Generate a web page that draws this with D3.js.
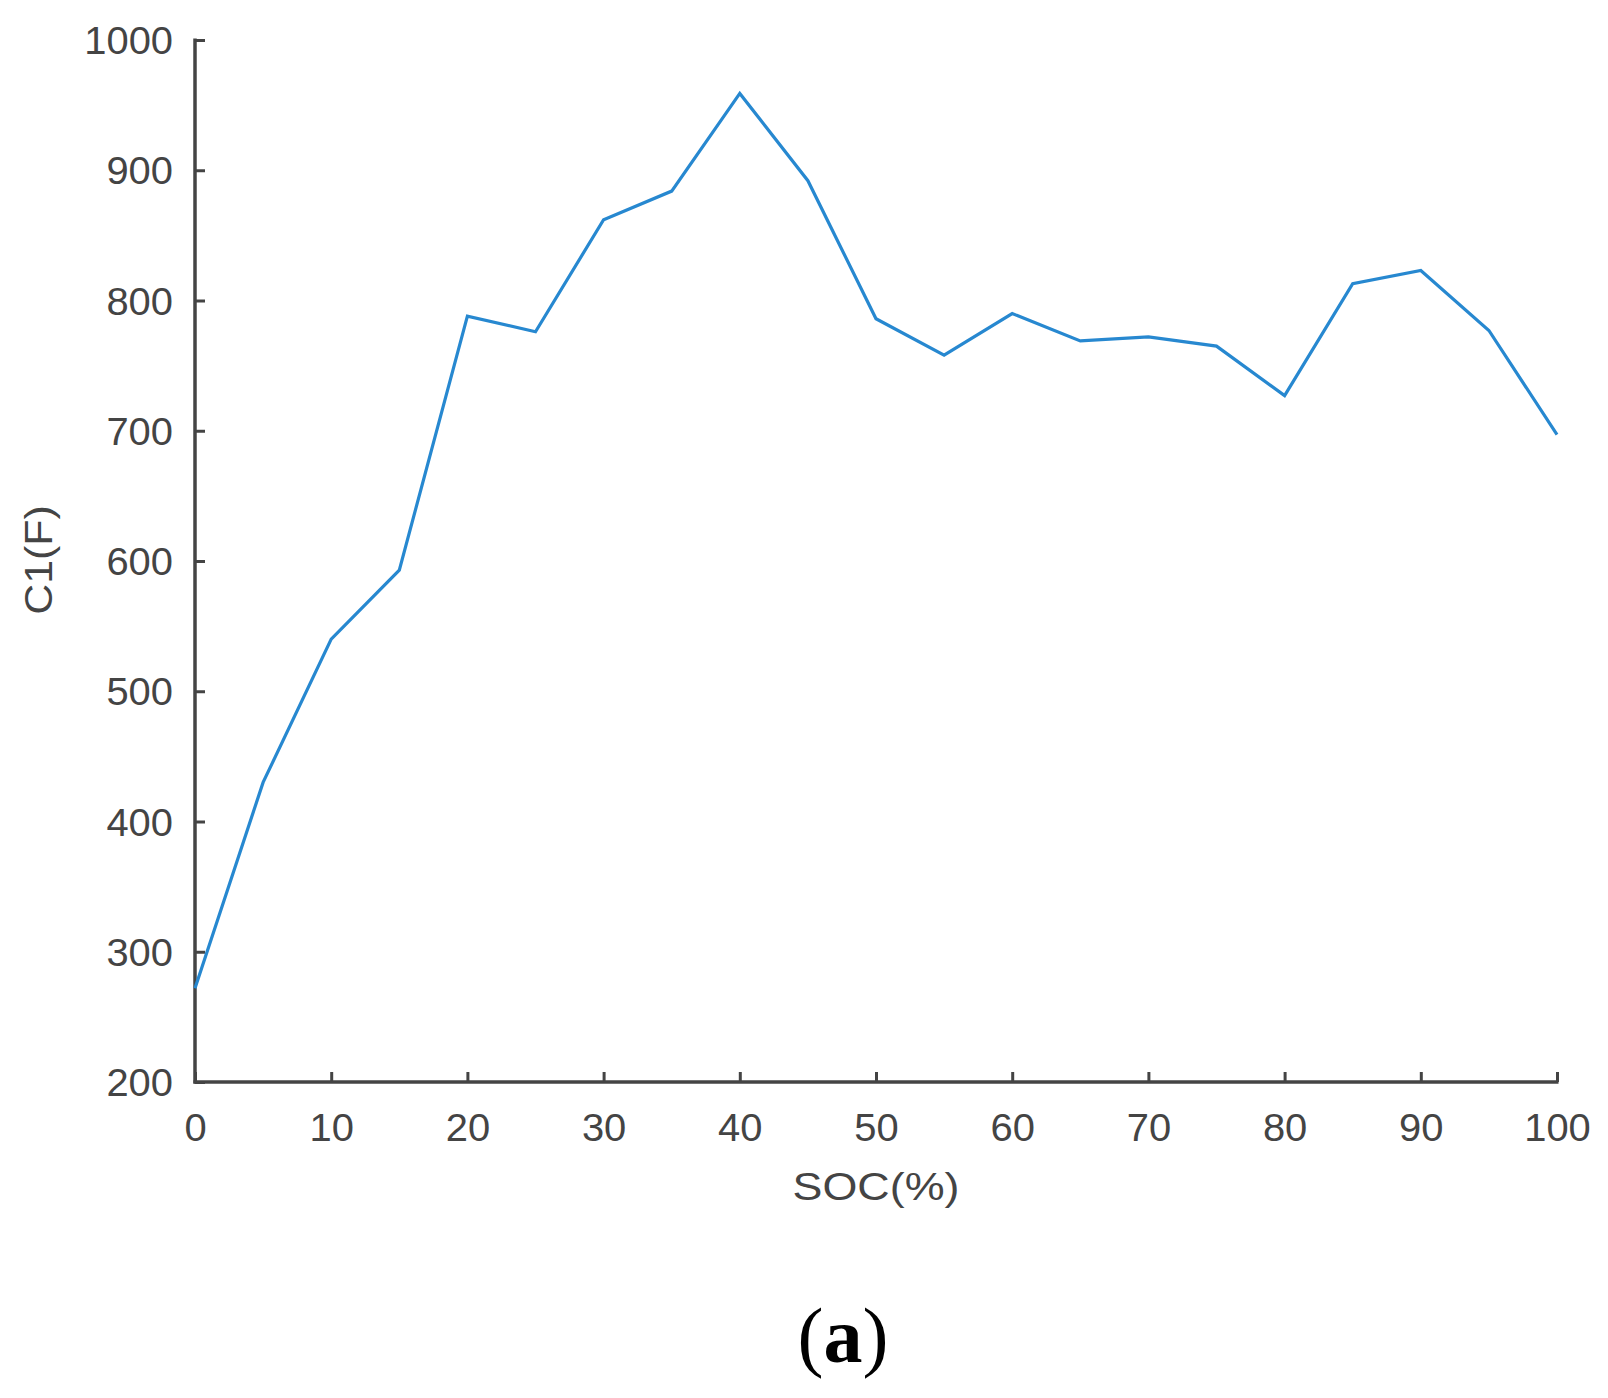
<!DOCTYPE html>
<html>
<head>
<meta charset="utf-8">
<script src="https://cdn.jsdelivr.net/npm/d3@7"></script>
<style>
  html, body { margin: 0; padding: 0; background: #fff; }
  svg { display: block; }
</style>
</head>
<body>
<script>
const soc = [0, 5, 10, 15, 20, 25, 30, 35, 40, 45, 50, 55, 60, 65, 70, 75, 80, 85, 90, 95, 100];
const c1 = [272, 430, 540, 593, 788, 776, 862, 884, 959, 892, 786, 758, 790, 769, 772, 765, 727, 813, 823, 777, 697];
const xTicks = [0, 10, 20, 30, 40, 50, 60, 70, 80, 90, 100];
const yTicks = [200, 300, 400, 500, 600, 700, 800, 900, 1000];
const xLabel = "SOC(%)";
const yLabel = "C1(F)";
const caption = "a";

(function () {
const W = 1608, H = 1398;
const mLeft = 195, mRight = 1557, mTop = 40, mBottom = 1082;
const axisColor = "#444444";
const textColor = "#444444";

const svg = d3.select("body").append("svg").attr("width", W).attr("height", H);

const x = d3.scaleLinear().domain([0, 100]).range([mLeft, mRight]);
const y = d3.scaleLinear().domain([200, 1000]).range([mBottom, mTop]);

const font = "'Liberation Sans', Arial, sans-serif";

// X axis
const gx = svg.append("g").attr("transform", `translate(0,${mBottom})`)
  .call(d3.axisTop(x).tickValues(xTicks).tickSize(10).tickFormat(""));
gx.select(".domain").remove();
gx.selectAll(".tick line").attr("stroke", axisColor).attr("stroke-width", 3);
gx.append("line").attr("x1", mLeft - 1.5).attr("x2", mRight + 1.5).attr("y1", 0).attr("y2", 0)
  .attr("stroke", axisColor).attr("stroke-width", 3.5);
gx.selectAll(".tick").append("text")
  .attr("transform", "translate(0,59) scale(1.05,1)")
  .attr("text-anchor", "middle")
  .attr("fill", textColor).style("font-family", font).style("font-size", "38px")
  .text(d => d);

// Y axis
const gy = svg.append("g").attr("transform", `translate(${mLeft},0)`)
  .call(d3.axisRight(y).tickValues(yTicks).tickSize(10).tickFormat(""));
gy.select(".domain").remove();
gy.selectAll(".tick line").attr("stroke", axisColor).attr("stroke-width", 3);
gy.append("line").attr("x1", 0).attr("x2", 0).attr("y1", mTop - 1.5).attr("y2", mBottom + 1.5)
  .attr("stroke", axisColor).attr("stroke-width", 3.5);
gy.selectAll(".tick").append("text")
  .attr("transform", "translate(-22,0) scale(1.05,1)")
  .attr("dy", "0.36em").attr("text-anchor", "end")
  .attr("fill", textColor).style("font-family", font).style("font-size", "38px")
  .text(d => d);

// Line
const line = d3.line().x((d, i) => x(soc[i])).y(d => y(d));
svg.append("path").datum(c1)
  .attr("d", line)
  .attr("fill", "none")
  .attr("stroke", "#2788d0")
  .attr("stroke-width", 3.2)
  .attr("stroke-linejoin", "miter");

// Axis labels
svg.append("text")
  .attr("transform", `translate(${(mLeft + mRight) / 2},1200) scale(1.15,1)`)
  .attr("text-anchor", "middle")
  .attr("fill", textColor).style("font-family", font).style("font-size", "39px")
  .text(xLabel);

svg.append("text")
  .attr("transform", `translate(52,560) rotate(-90) scale(1.13,1)`)
  .attr("text-anchor", "middle")
  .attr("fill", textColor).style("font-family", font).style("font-size", "38px")
  .text(yLabel);

// Caption
const cap = svg.append("text")
  .attr("x", 843).attr("y", 1362)
  .attr("text-anchor", "middle")
  .attr("fill", "#000")
  .style("font-family", "'Liberation Serif', 'Times New Roman', serif")
  .style("font-size", "78px");
cap.append("tspan").text("(");
cap.append("tspan").style("font-weight", "bold").text(caption);
cap.append("tspan").text(")");
})();
</script>
</body>
</html>
